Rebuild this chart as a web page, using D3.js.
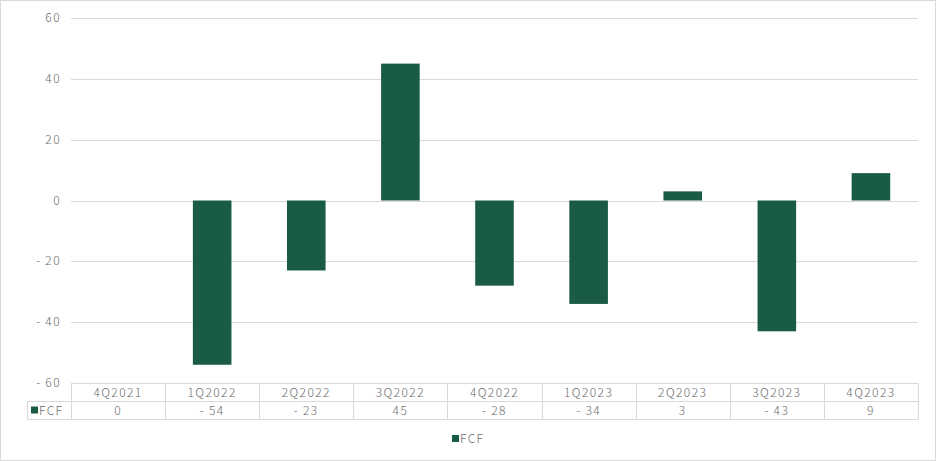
<!DOCTYPE html>
<html>
<head>
<meta charset="utf-8">
<script src="https://cdn.jsdelivr.net/npm/d3@7"></script>
<style>
  body { margin: 0; background: #fff; }
  text { font-family: "Noto Sans CJK JP", "Noto Sans", sans-serif; fill: #6a6a6a; font-size: 12px; letter-spacing: 1.4px; font-weight: 300; }
</style>
</head>
<body>
<svg id="chart" width="936" height="461"></svg>
<script>
const quarters = ["4Q2021", "1Q2022", "2Q2022", "3Q2022", "4Q2022", "1Q2023", "2Q2023", "3Q2023", "4Q2023"];
const fcf = [0, -54, -23, 45, -28, -34, 3, -43, 9];
const yTicks = [60, 40, 20, 0, -20, -40, -60];

const svg = d3.select("#chart");
const plotLeft = 71, plotRight = 918, plotTop = 18, plotBottom = 383;
const rowH = 18;
const barColor = "#1a5c43";
const lineColor = "#d9d9d9";

const fmt = v => v < 0 ? "-\u2009" + Math.abs(v) : String(v);

svg.append("rect")
    .attr("x", 0.5).attr("y", 0.5)
    .attr("width", 935).attr("height", 460)
    .attr("fill", "#fff").attr("stroke", lineColor);

const x = d3.scaleBand().domain(quarters).range([plotLeft, plotRight]).paddingInner(0.59).paddingOuter(0.295);
const xCell = d3.scaleBand().domain(quarters).range([plotLeft, plotRight]);
const y = d3.scaleLinear().domain([-60, 60]).range([plotBottom, plotTop]);

// gridlines
svg.append("g").selectAll("line")
    .data(yTicks)
    .enter().append("line")
    .attr("x1", plotLeft).attr("x2", plotRight)
    .attr("y1", d => Math.round(y(d)) + 0.5)
    .attr("y2", d => Math.round(y(d)) + 0.5)
    .attr("stroke", lineColor);

// y labels
svg.append("g").selectAll("text")
    .data(yTicks)
    .enter().append("text")
    .attr("x", 61)
    .attr("y", d => y(d) + 4)
    .attr("text-anchor", "end")
    .text(fmt);

// bars
svg.append("g").selectAll("rect")
    .data(fcf)
    .enter().append("rect")
    .attr("x", (d, i) => x(quarters[i]))
    .attr("width", x.bandwidth())
    .attr("y", d => y(Math.max(0, d)))
    .attr("height", d => Math.abs(y(d) - y(0)))
    .attr("fill", barColor);

// data table
const table = svg.append("g");
const r1 = plotBottom + 0.5, r2 = plotBottom + rowH + 0.5, r3 = plotBottom + 2 * rowH + 0.5;
function hline(x1, x2, yy) {
    table.append("line").attr("x1", x1).attr("x2", x2).attr("y1", yy).attr("y2", yy).attr("stroke", lineColor);
}
function vline(xx, y1, y2) {
    table.append("line").attr("x1", xx).attr("x2", xx).attr("y1", y1).attr("y2", y2).attr("stroke", lineColor);
}
hline(plotLeft, plotRight, r1);
hline(27.5, plotRight, r2);
hline(27.5, plotRight, r3);
vline(27.5, r2, r3);
quarters.forEach(q => vline(Math.round(xCell(q)) + 0.5, r1, r3));
vline(plotRight + 0.5, r1, r3);

table.selectAll("text.hdr")
    .data(quarters)
    .enter().append("text")
    .attr("class", "hdr")
    .attr("x", d => xCell(d) + xCell.bandwidth() / 2)
    .attr("y", r1 + 13)
    .attr("text-anchor", "middle")
    .text(d => d);

table.selectAll("text.val")
    .data(fcf)
    .enter().append("text")
    .attr("class", "val")
    .attr("x", (d, i) => xCell(quarters[i]) + xCell.bandwidth() / 2)
    .attr("y", r2 + 13)
    .attr("text-anchor", "middle")
    .text(fmt);

table.append("rect").attr("x", 31).attr("y", r2 + 5).attr("width", 7).attr("height", 7).attr("fill", barColor);
table.append("text").attr("x", 39).attr("y", r2 + 13).text("FCF");

// legend
const legend = svg.append("g");
legend.append("rect").attr("x", 452).attr("y", 435).attr("width", 7).attr("height", 7).attr("fill", barColor);
legend.append("text").attr("x", 460).attr("y", 443).text("FCF");
</script>
</body>
</html>
